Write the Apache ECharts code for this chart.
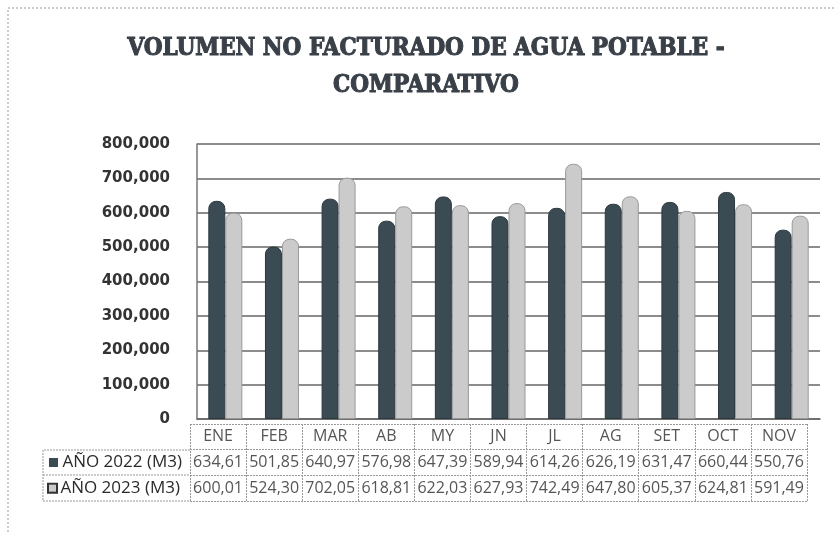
<!DOCTYPE html>
<html>
<head>
<meta charset="utf-8">
<script src="https://cdn.jsdelivr.net/npm/echarts@6/dist/echarts.min.js"></script>
<style>
  html, body { margin: 0; padding: 0; background: #fff; }
  #chart { width: 836px; height: 534px; }
</style>
</head>
<body>
<div id="chart"></div>
<script>
// meses del cuadro
var meses = ['ENE', 'FEB', 'MAR', 'AB', 'MY', 'JN', 'JL', 'AG', 'SET', 'OCT', 'NOV'];
// volumen no facturado (m3)
var anio2022 = [634610, 501850, 640970, 576980, 647390, 589940, 614260, 626190, 631470, 660440, 550760];
var anio2023 = [600010, 524300, 702050, 618810, 622030, 627930, 742490, 647800, 605370, 624810, 591490];
var serieNombres = ['AÑO 2022 (M3)', 'AÑO 2023 (M3)'];
var ejeY = { min: 0, max: 800000, interval: 100000 };

var oscuro = '#3b4b53';
var claro = '#cbcbcb';

// texto de la tabla (miles con coma decimal)
function fmt(v) {
  return (v / 1000).toFixed(2).replace('.', ',');
}

var celdas = [];
for (var i = 0; i < meses.length; i++) {
  celdas.push([i, 2, meses[i]]);
  celdas.push([i, 1, fmt(anio2022[i])]);
  celdas.push([i, 0, fmt(anio2023[i])]);
}

var chart = echarts.init(document.getElementById('chart'));

chart.setOption({
  animation: false,
  title: {
    text: 'VOLUMEN NO FACTURADO DE AGUA POTABLE -\nCOMPARATIVO',
    left: 421,
    top: 25,
    textAlign: 'center',
    textStyle: {
      fontFamily: 'DejaVu Serif Condensed',
      fontWeight: 'bold',
      fontSize: 24,
      lineHeight: 37,
      color: '#3a4048',
      textBorderColor: '#3a4048',
      textBorderWidth: 1
    }
  },
  graphic: [
    {
      type: 'rect',
      shape: { x: 8, y: 8, width: 850, height: 550 },
      style: { fill: 'none', stroke: '#999', lineWidth: 1, lineDash: [2, 2] },
      silent: true
    },
    {
      type: 'polyline',
      shape: { points: [[190, 450], [43, 450], [43, 501], [190, 501]] },
      style: { fill: 'none', stroke: '#999', lineWidth: 1, lineDash: [2, 1] },
      silent: true
    },
    {
      type: 'line',
      shape: { x1: 43, y1: 475, x2: 190, y2: 475 },
      style: { stroke: '#999', lineWidth: 1, lineDash: [2, 1] },
      silent: true
    }
  ],
  grid: [
    { left: 197, right: 16, top: 144, bottom: 115 },
    { left: 190, right: 29, top: 424, bottom: 33 }
  ],
  xAxis: [
    {
      type: 'category',
      gridIndex: 0,
      data: meses,
      axisTick: { show: false },
      axisLabel: { show: false },
      axisLine: { lineStyle: { color: '#666', width: 1.5 } }
    },
    {
      type: 'category',
      gridIndex: 1,
      data: meses,
      axisTick: { show: false },
      axisLabel: { show: false },
      axisLine: { show: false },
      splitLine: { show: true, lineStyle: { color: '#999', type: [2, 1] } }
    }
  ],
  yAxis: [
    {
      type: 'value',
      gridIndex: 0,
      min: ejeY.min,
      max: ejeY.max,
      interval: ejeY.interval,
      axisLine: { show: true, lineStyle: { color: '#777', width: 1.5 } },
      axisTick: { show: false },
      splitLine: { lineStyle: { color: '#666', width: 1.5 } },
      axisLabel: {
        margin: 27,
        fontFamily: 'DejaVu Sans',
        fontWeight: 'bold',
        fontSize: 15,
        color: '#333',
        formatter: function (v) { return v.toLocaleString('en-US'); }
      }
    },
    {
      type: 'category',
      gridIndex: 1,
      data: [serieNombres[1], serieNombres[0], ''],
      axisTick: { show: false },
      axisLine: { show: false },
      splitLine: { show: true, lineStyle: { color: '#999', type: [2, 1] } },
      axisLabel: {
        align: 'left',
        margin: 141,
        fontFamily: 'Open Sans',
        fontSize: 17,
        color: '#2a2a2a',
        formatter: function (v, idx) {
          if (!v) return '';
          return (idx === 1 ? '{a|}' : '{b|}') + ' ' + v;
        },
        rich: {
          a: { width: 9, height: 9, backgroundColor: oscuro },
          b: { width: 7, height: 7, backgroundColor: claro, borderColor: '#333', borderWidth: 2 }
        }
      }
    }
  ],
  series: [
    {
      name: serieNombres[0],
      type: 'bar',
      xAxisIndex: 0,
      yAxisIndex: 0,
      data: anio2022,
      barWidth: 17,
      barGap: '0%',
      itemStyle: { color: oscuro, borderColor: '#2c383e', borderWidth: 1, borderRadius: [7, 7, 0, 0] }
    },
    {
      name: serieNombres[1],
      type: 'bar',
      xAxisIndex: 0,
      yAxisIndex: 0,
      data: anio2023,
      barWidth: 17,
      itemStyle: { color: claro, borderColor: '#999', borderWidth: 1, borderRadius: [7, 7, 0, 0] }
    },
    {
      type: 'scatter',
      xAxisIndex: 1,
      yAxisIndex: 1,
      data: celdas,
      symbolSize: 1,
      itemStyle: { color: 'rgba(0,0,0,0)' },
      silent: true,
      label: {
        show: true,
        position: 'inside',
        fontFamily: 'Open Sans',
        fontSize: 16,
        color: '#2a2a2a',
        formatter: function (p) { return p.data[2]; }
      }
    }
  ]
});
</script>
</body>
</html>
